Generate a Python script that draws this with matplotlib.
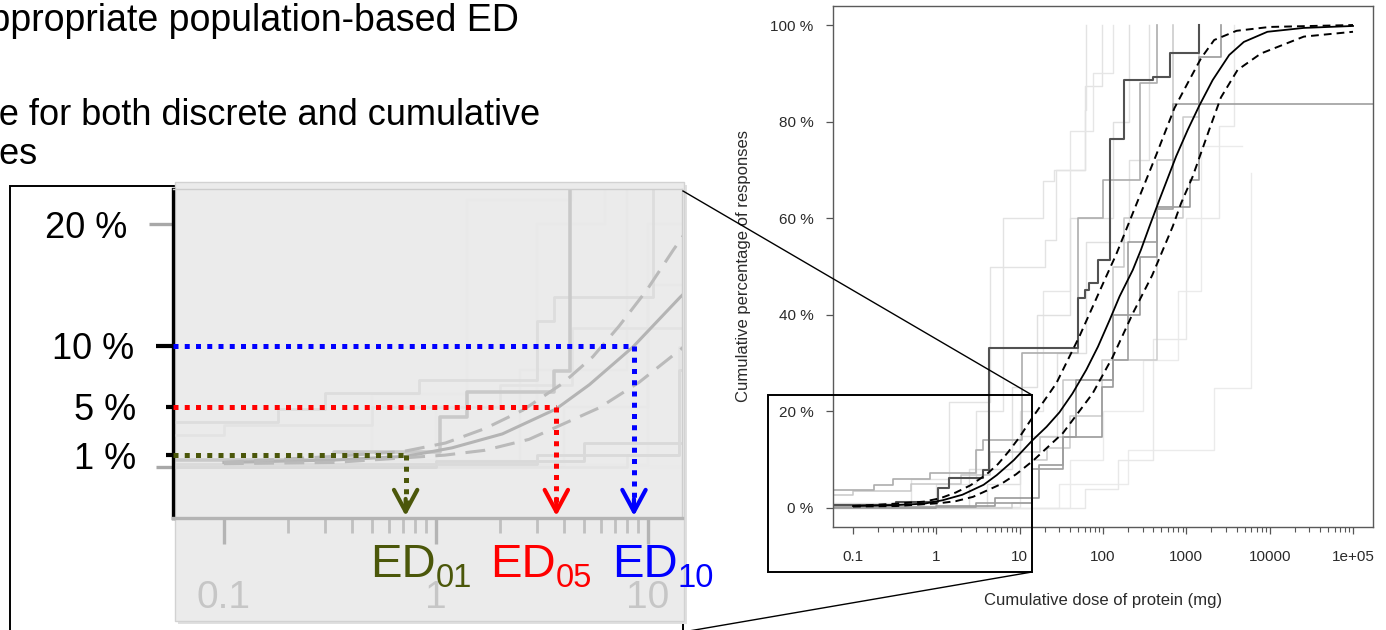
import matplotlib
matplotlib.use('Agg')
import matplotlib.pyplot as plt
from matplotlib.patches import Rectangle
from matplotlib.lines import Line2D
from matplotlib.ticker import FixedLocator, NullFormatter

plt.rcParams['font.family'] = ['Liberation Sans', 'DejaVu Sans']

# ---------------- data ----------------
# individual study step curves: cumulative dose (mg) vs cumulative % responding
study_a_dose = [0.056, 0.33, 1.05, 1.4, 3.6, 4.3, 50, 60, 68, 86, 120, 181, 400, 630, 1430]
study_a_pct = [0.6, 1.3, 4.1, 6.2, 7.9, 33.1, 43.4, 45.1, 46.5, 51.3, 76.5, 88.6, 89.2, 94.3, 100]
study_b_dose = [0.056, 3.0, 14, 33, 48, 131, 200, 450, 690, 2e5]
study_b_pct = [0.3, 1.0, 8.0, 14.8, 26.5, 30.6, 55.0, 62.0, 83.6, 83.6]
study_c_dose = [0.056, 0.18, 0.3, 0.83, 3.0, 3.6, 10.6, 50, 100, 275, 450]
study_c_pct = [3.7, 4.8, 6.1, 7.2, 12.0, 14.0, 32.0, 60.0, 68.0, 88.0, 100]
study_d_dose = [0.056, 1.0, 5.0, 17, 33, 98, 131, 275, 450, 1100, 1430, 2600]
study_d_pct = [0.0, 0.5, 2.0, 9.0, 14.8, 25.0, 40.0, 52.0, 62.4, 67.9, 93.4, 100]
study_e_dose = [0.056, 0.5, 1.4, 4.4, 20, 27.5, 60, 98]
study_e_pct = [1.0, 6.0, 22.0, 50.0, 55.5, 70.0, 87.3, 100]
study_f_dose = [0.056, 1.0, 3.0, 6.3, 19, 26, 60, 63]
study_f_pct = [0.5, 5.0, 20.0, 60.0, 67.6, 70.0, 82.4, 100]
study_g_dose = [0.056, 10, 19, 40, 75, 131]
study_g_pct = [0.2, 20, 45, 78, 90, 100]
study_h_dose = [0.056, 2.5, 8, 16, 40, 131, 205]
study_h_pct = [0.5, 8, 25, 40, 60, 80, 100]
study_i_dose = [0.056, 4, 10, 28, 63, 205, 360]
study_i_pct = [0.2, 5, 15, 32, 55, 72, 100]
study_j_dose = [0.056, 30, 200, 2150, 5970]
study_j_pct = [0.0, 5.0, 12.0, 24.8, 69.4]
study_k_dose = [0.056, 40, 100, 300, 800, 1500, 4660]
study_k_pct = [0.0, 10, 20, 30.6, 45, 75, 75]
study_l_dose = [0.056, 0.1, 0.5, 2.0, 4.4, 17.3, 33, 131, 180, 450, 700]
study_l_pct = [2.7, 3.5, 5.0, 6.8, 11.5, 14.8, 26.5, 50, 60, 72, 100]
study_m_dose = [0.056, 8, 14, 21, 40, 98, 450, 900, 1430]
study_m_pct = [0.0, 1.0, 9.9, 12.5, 19.0, 30.6, 60.0, 81.0, 100]
study_n_dose = [0.056, 60, 150, 400, 1000, 2500, 3700]
study_n_pct = [0.0, 4.0, 10.0, 35.0, 60.0, 79.0, 100]

# fitted population dose-distribution and its confidence band
fit_dose = [0.1, 0.33, 0.72, 1.19, 2.06, 3.69, 5.3, 8.5, 14.2, 21, 30, 43, 63, 87, 120,
            158, 228, 286, 361, 475, 754, 1040, 1430, 2070, 3270, 4900, 9400, 25700, 1e5]
fit_pct = [0.4, 0.6, 0.9, 1.6, 2.75, 4.8, 6.8, 9.9, 14.0, 16.8, 19.8, 23.7, 28.6, 33.4, 38.9,
           43.8, 49.3, 53.5, 58.3, 63.8, 72.8, 78.3, 83.3, 88.6, 93.8, 96.5, 98.6, 99.4, 99.8]
upper_dose = [0.1, 0.33, 0.7, 1.11, 1.71, 2.57, 3.96, 5.5, 7.3, 9.9, 13.2, 27.5, 52, 109, 144,
              249, 433, 720, 1040, 1500, 2160, 4000, 10000, 1e5]
upper_pct = [0.4, 0.9, 1.3, 2.0, 3.2, 4.7, 6.9, 9.1, 11.6, 14.6, 17.9, 25.8, 35.5, 47.9, 52.5,
             62.7, 73.0, 82.8, 88.0, 93.1, 96.9, 98.8, 99.6, 100]
lower_dose = [0.1, 0.33, 1.1, 1.7, 2.75, 5.9, 9.1, 14.5, 33, 75, 131, 228, 390, 687, 865,
              1190, 1880, 2600, 4120, 7850, 25700, 1e5]
lower_pct = [0.3, 0.4, 1.0, 1.4, 2.3, 4.9, 7.0, 9.8, 15.5, 23.7, 31.3, 40.3, 48.2, 58.3, 63.1,
             68.6, 78.3, 85.0, 90.7, 94.1, 97.6, 98.6]

y_ticks = [0, 20, 40, 60, 80, 100]
y_labels = ['0 %', '20 %', '40 %', '60 %', '80 %', '100 %']
x_ticks = [0.1, 1, 10, 100, 1000, 10000, 1e5]
x_labels = ['0.1', '1', '10', '100', '1000', '10000', '1e+05']

# effective doses shown in the magnified view
ed_names = ['01', '05', '10']
ed_levels = [1, 5, 10]
ed_doses = [0.72, 3.7, 8.6]
inset_y_ticks = [0, 1, 5, 10, 20]
inset_y_labels = ['', '1 %', '5 %', '10 %', '20 %']
inset_x_ticks = [0.1, 1, 10]
inset_x_labels = ['0.1', '1', '10']

studies = [
    (study_j_dose, study_j_pct), (study_k_dose, study_k_pct), (study_n_dose, study_n_pct),
    (study_e_dose, study_e_pct), (study_f_dose, study_f_pct), (study_g_dose, study_g_pct),
    (study_h_dose, study_h_pct), (study_i_dose, study_i_pct),
    (study_l_dose, study_l_pct), (study_m_dose, study_m_pct),
    (study_c_dose, study_c_pct), (study_d_dose, study_d_pct),
    (study_b_dose, study_b_pct), (study_a_dose, study_a_pct),
]
# grey level of each study line (styling)
study_grey = [0.92, 0.92, 0.91, 0.89, 0.89, 0.90, 0.88, 0.88,
              0.78, 0.80, 0.68, 0.60, 0.62, 0.32]
study_lw = [1.0, 1.0, 1.0, 1.0, 1.0, 1.0, 1.0, 1.0,
            1.1, 1.1, 1.2, 1.2, 1.2, 1.5]

W, H = 1386, 630
fig = plt.figure(figsize=(W / 100, H / 100), dpi=100)


def fx(px):
    return px / W


def fy(py):
    return 1 - py / H


def box(l, t, r, b):
    return [fx(l), fy(b), (r - l) / W, (b - t) / H]


# ---------------- right: full chart ----------------
ax = fig.add_axes(box(833, 5.7, 1373, 527.3))
ax.set_xscale('log')
ax.set_xlim(10 ** -1.24, 10 ** 5.24)
ax.set_ylim(-4, 104)

for (d, p), g, lw in zip(studies, study_grey, study_lw):
    ax.step(d, p, where='post', color=str(g), lw=lw, zorder=2)

ax.plot(fit_dose, fit_pct, color='black', lw=1.3, zorder=4)
ax.plot(upper_dose, upper_pct, color='black', lw=1.4, ls=(0, (4, 2.6)), zorder=4)
ax.plot(lower_dose, lower_pct, color='black', lw=1.4, ls=(0, (4, 2.6)), zorder=4)

ax.set_yticks(y_ticks)
ax.set_yticklabels(y_labels)
ax.set_xticks(x_ticks)
ax.set_xticklabels(x_labels)
minor = [m * 10 ** e for e in range(-1, 5) for m in range(2, 10)]
ax.xaxis.set_minor_locator(FixedLocator(minor))
ax.xaxis.set_minor_formatter(NullFormatter())
ax.tick_params(axis='both', which='major', direction='out', length=5, width=0.9,
               color='#555555', labelsize=11, labelcolor='#2a2a2a')
ax.tick_params(axis='x', which='major', pad=11)
ax.tick_params(axis='y', which='major', pad=9)
ax.tick_params(axis='x', which='minor', direction='out', length=3.5, width=0.8, color='#555555')
for s in ax.spines.values():
    s.set_color('#5a5a5a')
    s.set_linewidth(1.0)
ax.set_xlabel('Cumulative dose of protein (mg)', fontsize=12, color='#2a2a2a')
ax.set_ylabel('Cumulative percentage of responses', fontsize=12, color='#2a2a2a')
ax.xaxis.set_label_coords(0.5, -0.125)
ax.yaxis.set_label_coords(-0.152, 0.5)

# zoom frame on the full chart and connector lines
fig.add_artist(Rectangle((fx(768), fy(572)), (1032 - 768) / W, (572 - 395) / H,
                         transform=fig.transFigure, fill=False, ec='black', lw=1.4, zorder=5))
fig.add_artist(Line2D([fx(683), fx(1032)], [fy(191), fy(395)], transform=fig.transFigure,
                      color='black', lw=1.0, zorder=5))
fig.add_artist(Line2D([fx(683), fx(1032)], [fy(632), fy(572)], transform=fig.transFigure,
                      color='black', lw=1.0, zorder=5))

# ---------------- left: magnified view ----------------
fig.add_artist(Rectangle((fx(10), fy(660)), (683 - 10) / W, (660 - 186) / H,
                         transform=fig.transFigure, fill=False, ec='black', lw=1.4, zorder=0.5))
fig.add_artist(Rectangle((fx(178), fy(624)), (687 - 178) / W, (624 - 185) / H,
                         transform=fig.transFigure, fc='#e0e0e0', ec='none', zorder=0.7))
fig.add_artist(Rectangle((fx(175), fy(621)), (684 - 175) / W, (621 - 182) / H,
                         transform=fig.transFigure, fc='#ebebeb', ec='#d2d2d2', lw=1.0, zorder=0.8))

axi = fig.add_axes(box(173, 189, 682, 518))
axi.set_zorder(2)
axi.set_facecolor('none')
axi.set_xscale('log')
axi.set_xlim(10 ** -1.24, 10 ** 1.161)
axi.set_ylim(-4.17, 22.9)

for (d, p), g, lw in zip(studies, study_grey, study_lw):
    gi = 0.92 - (0.92 - g) * 0.22
    axi.step(d, p, where='post', color=str(gi), lw=lw * 1.7, zorder=2)
axi.plot(fit_dose, fit_pct, color='#b4b4b4', lw=2.2, zorder=3)
axi.plot(upper_dose, upper_pct, color='#bababa', lw=2.2, ls=(0, (6.5, 3.4)), zorder=3)
axi.plot(lower_dose, lower_pct, color='#bababa', lw=2.2, ls=(0, (6.5, 3.4)), zorder=3)

axi.set_yticks(inset_y_ticks)
axi.set_yticklabels(inset_y_labels)
axi.tick_params(axis='y', which='major', direction='out', labelsize=26, labelcolor='black')
tick_cols = ['#a8a8a8', 'black', 'black', 'black', '#a8a8a8']
tick_lens = [12, 5, 5, 12, 17]
tick_pads = [10, 23, 23, 24.6, 29.5]
tick_wid = [2.4, 3.0, 3.0, 3.0, 2.4]
for t, c, ln, pd, wd in zip(axi.yaxis.get_major_ticks(), tick_cols, tick_lens, tick_pads, tick_wid):
    t.set_pad(pd)
    t.tick1line.set_markeredgecolor(c)
    t.tick1line.set_markersize(ln)
    t.tick1line.set_markeredgewidth(wd)

axi.set_xticks(inset_x_ticks)
axi.set_xticklabels(inset_x_labels)
axi.xaxis.set_minor_locator(FixedLocator([m * 10 ** e for e in range(-1, 2) for m in range(2, 10)]))
axi.xaxis.set_minor_formatter(NullFormatter())
axi.tick_params(axis='x', which='major', direction='out', length=19, width=2.4,
                color='#b4b4b4', labelsize=28, labelcolor='#c6c6c6', pad=26)
axi.tick_params(axis='x', which='minor', direction='out', length=11, width=2.0, color='#c0c0c0')

axi.spines['left'].set_color('black')
axi.spines['left'].set_linewidth(2.4)
axi.spines['bottom'].set_color('#b4b4b4')
axi.spines['bottom'].set_linewidth(2.4)
for k in ('top', 'right'):
    axi.spines[k].set_color('#cdcdcd')
    axi.spines[k].set_linewidth(1.0)

ed_colors = ['#4b570a', '#ff0000', '#0000ff']
x_left = 10 ** -1.24
for lvl, dose, col in zip(ed_levels, ed_doses, ed_colors):
    axi.plot([x_left, dose], [lvl, lvl], color=col, lw=3.6, ls=(0, (1, 1.25)),
             zorder=5, clip_on=False)
    axi.plot([dose, dose], [lvl, -3.2], color=col, lw=3.6, ls=(0, (1, 1.25)),
             zorder=5, clip_on=False)
    axi.annotate('', xy=(dose, -4.0), xytext=(dose, -2.6),
                 arrowprops=dict(arrowstyle='->,head_length=0.78,head_width=0.42',
                                 mutation_scale=20, lw=3.0, color=col,
                                 shrinkA=0, shrinkB=0), zorder=6, annotation_clip=False)

# ED labels (main part + subscript)
ed_label_x = [370, 490, 612]
for name, col, x0 in zip(ed_names, ed_colors, ed_label_x):
    fig.text(fx(x0), fy(577), 'ED', fontsize=34, color=col, ha='left', va='baseline', zorder=10)
    fig.text(fx(x0 + 66), fy(587), name, fontsize=23.5, color=col, ha='left', va='baseline',
             zorder=10)

# ---------------- slide text (clipped at the left edge) ----------------
fig.text(fx(519), fy(31), 'Select appropriate population-based ED', fontsize=27,
         ha='right', va='baseline', color='black')
fig.text(fx(540), fy(125), 'Applicable for both discrete and cumulative', fontsize=26,
         ha='right', va='baseline', color='black')
fig.text(fx(38), fy(164), 'doses', fontsize=26, ha='right', va='baseline', color='black')

fig.savefig('out.png', dpi=100)
